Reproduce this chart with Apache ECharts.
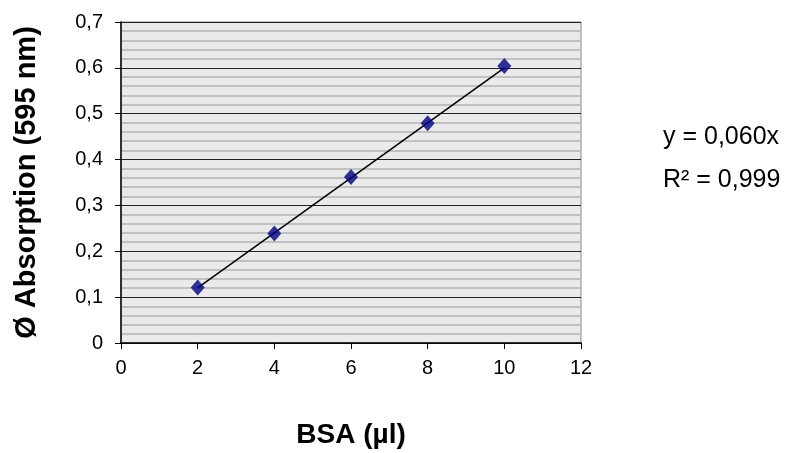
<!DOCTYPE html>
<html>
<head>
<meta charset="utf-8">
<script src="https://cdn.jsdelivr.net/npm/echarts@6/dist/echarts.min.js"></script>
<style>
  html, body { margin: 0; padding: 0; background: #fff; }
  #chart { width: 788px; height: 453px; }
</style>
</head>
<body>
<div id="chart"></div>
<script>
// measured points
var bsa = [2, 4, 6, 8, 10]
var absorption = [0.121, 0.239, 0.362, 0.479, 0.604]
// linear trend line end points (y = 0,060x)
var trendX = [2, 10]
var trendY = [0.12, 0.60]
var equationLines = ['y = 0,060x', 'R² = 0,999']

var myChart = echarts.init(document.getElementById('chart'))

var fmt = function (v) {
    return String(Math.round(v * 10) / 10).replace('.', ',')
}

var option = {
    animation: false,
    textStyle: { fontFamily: 'Liberation Sans, Arial, sans-serif' },
    grid: {
        left: 121,
        right: 207,
        top: 22,
        bottom: 110,
        containLabel: false,
        outerBoundsMode: 'none',
        show: true,
        backgroundColor: '#eaeaea',
        borderColor: '#8a8a8a',
        borderWidth: 1
    },
    xAxis: {
        type: 'value',
        min: 0,
        max: 12,
        interval: 2,
        name: 'BSA (µl)',
        nameLocation: 'middle',
        nameGap: 78,
        nameTextStyle: { fontSize: 28, fontWeight: 'bold', color: '#000' },
        axisLine: { show: true, onZero: false, lineStyle: { color: '#000', width: 1.5 } },
        axisTick: { show: true, length: 6, lineStyle: { color: '#000' } },
        axisLabel: { fontSize: 20, color: '#000', margin: 15 },
        splitLine: { show: false }
    },
    yAxis: {
        type: 'value',
        min: 0,
        max: 0.7,
        interval: 0.1,
        name: 'Ø Absorption (595 nm)',
        nameLocation: 'middle',
        nameGap: 80,
        nameTextStyle: { fontSize: 29, fontWeight: 'bold', color: '#000' },
        axisLine: { show: true, onZero: false, lineStyle: { color: '#000', width: 1.5 } },
        axisTick: { show: true, length: 6, lineStyle: { color: '#000' } },
        axisLabel: { fontSize: 20, color: '#000', margin: 18, formatter: fmt },
        splitLine: { show: true, lineStyle: { color: '#222', width: 1 } },
        minorTick: { show: false, splitNumber: 5 },
        minorSplitLine: { show: true, lineStyle: { color: '#b4b4b4', width: 1.5 } }
    },
    series: [
        {
            name: 'trend',
            type: 'line',
            data: trendX.map(function (x, i) { return [x, trendY[i]] }),
            symbol: 'none',
            lineStyle: { color: '#000', width: 1.5 },
            z: 2
        },
        {
            name: 'BSA',
            type: 'scatter',
            data: bsa.map(function (x, i) { return [x, absorption[i]] }),
            symbol: 'diamond',
            symbolSize: [14, 16],
            itemStyle: { color: '#000080' },
            z: 3
        }
    ],
    graphic: equationLines.map(function (t, i) {
        return {
            type: 'text',
            left: 663,
            top: 125 + i * 43,
            style: { text: t, fontSize: 25, fill: '#000', fontFamily: 'Liberation Sans, Arial, sans-serif' }
        }
    })
}

myChart.setOption(option)
</script>
</body>
</html>
